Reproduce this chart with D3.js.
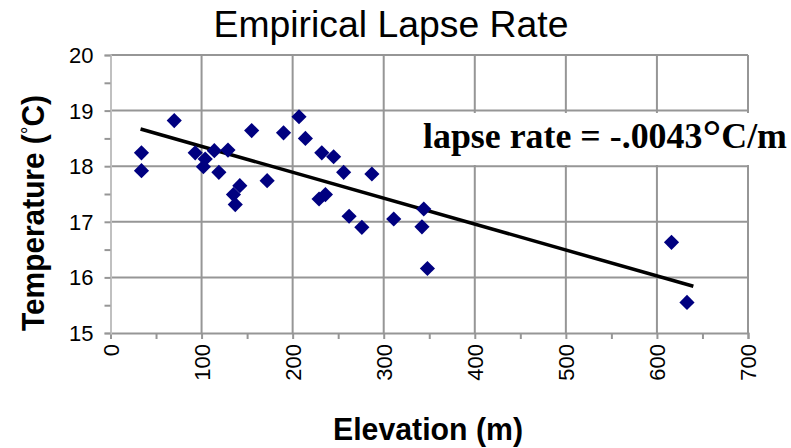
<!DOCTYPE html>
<html>
<head>
<meta charset="utf-8">
<script src="https://cdn.jsdelivr.net/npm/d3@7"></script>
<style>
  body { margin: 0; background: #fff; }
  text { font-family: "Liberation Sans", Arial, sans-serif; fill: #000; }
</style>
</head>
<body>
<svg id="chart" width="791" height="448"></svg>
<script>
// data
var elevation = [34, 34, 70, 93, 102, 104, 114, 119, 129, 142, 155, 172, 190, 207, 214, 232, 245, 256,
                 135, 137, 229, 236, 262, 276, 287, 311, 342, 344, 348, 616, 633];
var temperature = [18.24, 17.92, 18.82, 18.24, 17.99, 18.13, 18.28, 17.89, 18.29, 17.65, 18.64, 17.74, 18.60, 18.89, 18.50, 18.24, 18.17, 17.89,
                   17.49, 17.31, 17.41, 17.49, 17.10, 16.90, 17.86, 17.05, 16.91, 17.23, 16.16, 16.63, 15.55];
var trendX = [33, 640];
var trendY = [18.67, 15.84];
var xTicks = [0, 100, 200, 300, 400, 500, 600, 700];
var yTicks = [15, 16, 17, 18, 19, 20];

var svg = d3.select("#chart");

var x = d3.scaleLinear().domain([0, 700]).range([110.5, 748]);
var y = d3.scaleLinear().domain([15, 20]).range([333, 55]);

var gridColor = "#969696";

// gridlines
svg.selectAll("line.hgrid")
   .data(yTicks.slice(1))
   .enter().append("line")
   .attr("x1", x(0)).attr("x2", x(700))
   .attr("y1", function (d) { return y(d); }).attr("y2", function (d) { return y(d); })
   .attr("stroke", gridColor).attr("stroke-width", 2);

svg.selectAll("line.vgrid")
   .data(xTicks.slice(1))
   .enter().append("line")
   .attr("x1", function (d) { return x(d); }).attr("x2", function (d) { return x(d); })
   .attr("y1", y(20)).attr("y2", y(15))
   .attr("stroke", gridColor).attr("stroke-width", 2);

// x axis with minor ticks
var xAxis = svg.append("g").attr("transform", "translate(0," + y(15) + ")")
   .call(d3.axisBottom(x).tickValues(d3.range(0, 701, 50)).tickSize(6).tickFormat(""));
xAxis.select(".domain").attr("stroke", gridColor).attr("stroke-width", 2);
xAxis.selectAll(".tick line").attr("stroke", gridColor).attr("stroke-width", 2);

xAxis.selectAll("text.lbl")
   .data(xTicks)
   .enter().append("text")
   .attr("transform", function (d) { return "translate(" + (x(d) + 8) + ",11) rotate(-90)"; })
   .attr("text-anchor", "end")
   .style("font-size", "22px")
   .text(function (d) { return d; });

// y axis with minor ticks
var yAxis = svg.append("g").attr("transform", "translate(" + x(0) + ",0)")
   .call(d3.axisLeft(y).tickValues(d3.range(15, 20.01, 0.5)).tickSize(6).tickFormat(""));
yAxis.select(".domain").attr("stroke", "#c0c0c0").attr("stroke-width", 2);
yAxis.selectAll(".tick line").attr("stroke", gridColor).attr("stroke-width", 2);

yAxis.selectAll("text.lbl")
   .data(yTicks)
   .enter().append("text")
   .attr("x", -17).attr("y", function (d) { return y(d) + 8; })
   .attr("text-anchor", "end")
   .style("font-size", "22px")
   .text(function (d) { return d; });

// trend line
var line = d3.line()
    .x(function (d) { return x(d[0]); })
    .y(function (d) { return y(d[1]); });

svg.append("path")
   .attr("d", line(d3.zip(trendX, trendY)))
   .attr("stroke", "#000").attr("stroke-width", 3.5).attr("fill", "none");

// points
var diamond = d3.symbol().type(d3.symbolSquare).size(115);
svg.selectAll("path.pt")
   .data(d3.zip(elevation, temperature))
   .enter().append("path")
   .attr("class", "pt")
   .attr("d", diamond)
   .attr("transform", function (d) { return "translate(" + x(d[0]) + "," + y(d[1]) + ") rotate(45)"; })
   .attr("fill", "#000080");

// lapse rate label
svg.append("rect")
   .attr("x", 416).attr("y", 113).attr("width", 375).attr("height", 52)
   .attr("fill", "#fff");
var lbl = svg.append("text")
   .attr("x", 423).attr("y", 148)
   .attr("textLength", 364).attr("lengthAdjust", "spacingAndGlyphs")
   .style("font-family", "'Liberation Serif', 'Times New Roman', serif")
   .style("font-weight", "bold")
   .style("font-size", "35px");
lbl.append("tspan").text("lapse rate = -.0043");
lbl.append("tspan").style("font-size", "46px").attr("dy", 4).text("°");
lbl.append("tspan").attr("dy", -4).text("C/m");

// titles
svg.append("text")
   .attr("x", 391).attr("y", 37)
   .attr("text-anchor", "middle")
   .attr("textLength", 355).attr("lengthAdjust", "spacingAndGlyphs")
   .style("font-size", "36px")
   .text("Empirical Lapse Rate");

svg.append("text")
   .attr("x", 428).attr("y", 440)
   .attr("text-anchor", "middle")
   .attr("textLength", 190).attr("lengthAdjust", "spacingAndGlyphs")
   .style("font-size", "32px")
   .style("font-weight", "bold")
   .text("Elevation (m)");

var ylbl = svg.append("text")
   .attr("transform", "translate(44,213) rotate(-90)")
   .attr("text-anchor", "middle")
   .attr("textLength", 236).attr("lengthAdjust", "spacingAndGlyphs")
   .style("font-size", "31px")
   .style("font-weight", "bold");
ylbl.append("tspan").text("Temperature (");
ylbl.append("tspan").style("font-size", "20px").style("font-weight", "normal").attr("dy", -8).text("°");
ylbl.append("tspan").attr("dy", 8).text("C)");
</script>
</body>
</html>
